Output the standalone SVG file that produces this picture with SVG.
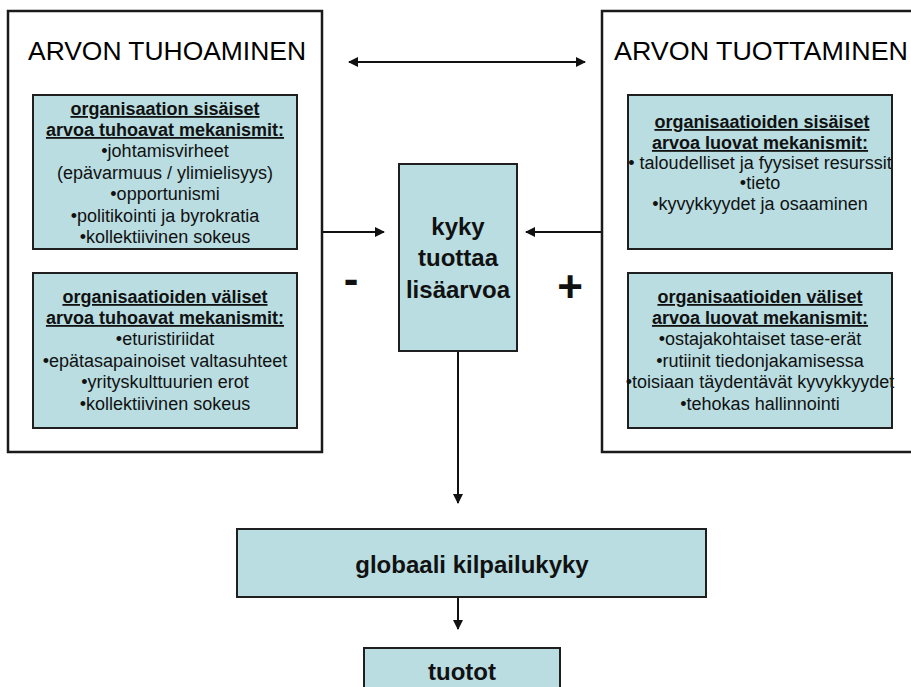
<svg xmlns="http://www.w3.org/2000/svg" width="911" height="687" viewBox="0 0 911 687">
  <style>
    .frame { fill: #ffffff; stroke: #1a1a1a; stroke-width: 2.5; }
    .box { fill: #b9dde1; stroke: #1f1f1f; stroke-width: 2; }
    .title { font-family: "Liberation Sans", Arial, sans-serif; font-size: 26px; fill: #000; text-anchor: middle; }
    .head { font-family: "Liberation Sans", Arial, sans-serif; font-size: 18px; font-weight: bold; text-decoration: underline; fill: #111; text-anchor: middle; }
    .item { font-family: "Liberation Sans", Arial, sans-serif; font-size: 18px; fill: #111; text-anchor: middle; }
    .big { font-family: "Liberation Sans", Arial, sans-serif; font-size: 24px; font-weight: bold; fill: #111; text-anchor: middle; }
    .sign { font-family: "Liberation Sans", Arial, sans-serif; font-size: 44px; font-weight: bold; fill: #111; text-anchor: middle; }
    .link { stroke: #111; stroke-width: 2; fill: none; }
  </style>
  <defs>
    <marker id="arrow" viewBox="0 0 10 10" refX="9" refY="5" markerWidth="5" markerHeight="5" orient="auto-start-reverse">
      <path d="M0,0 L10,5 L0,10 z" fill="#111"/>
    </marker>
  </defs>
  <rect width="911" height="687" fill="#ffffff"/>

  <!-- value destruction side -->
  <g id="destruction">
    <rect class="frame" x="8" y="11" width="314" height="441"/>
    <text class="title" x="167" y="60" textLength="278" lengthAdjust="spacingAndGlyphs">ARVON TUHOAMINEN</text>
  </g>
  <g id="destruction-internal">
    <rect class="box" x="33" y="95" width="264" height="154"/>
    <text class="head" x="165" y="115">organisaation sisäiset</text>
    <text class="head" x="165" y="136">arvoa tuhoavat mekanismit:</text>
    <text class="item" x="165" y="157">•johtamisvirheet</text>
    <text class="item" x="165" y="178.5">(epävarmuus / ylimielisyys)</text>
    <text class="item" x="165" y="200">•opportunismi</text>
    <text class="item" x="165" y="221.5">•politikointi ja byrokratia</text>
    <text class="item" x="165" y="243">•kollektiivinen sokeus</text>
  </g>
  <g id="destruction-external">
    <rect class="box" x="33" y="273" width="264" height="155"/>
    <text class="head" x="165" y="303">organisaatioiden väliset</text>
    <text class="head" x="165" y="324">arvoa tuhoavat mekanismit:</text>
    <text class="item" x="165" y="345">•eturistiriidat</text>
    <text class="item" x="165" y="367">•epätasapainoiset valtasuhteet</text>
    <text class="item" x="165" y="388">•yrityskulttuurien erot</text>
    <text class="item" x="165" y="410">•kollektiivinen sokeus</text>
  </g>

  <!-- value creation side -->
  <g id="creation">
    <rect class="frame" x="602" y="11" width="340" height="441"/>
    <text class="title" x="761" y="60" textLength="294" lengthAdjust="spacingAndGlyphs">ARVON TUOTTAMINEN</text>
  </g>
  <g id="creation-internal">
    <rect class="box" x="628" y="95" width="264" height="154"/>
    <text class="item" x="760" y="169">• taloudelliset ja fyysiset resurssit</text>
    <rect x="891" y="95" width="2" height="154" fill="#1f1f1f"/>
    <text class="head" x="762" y="128">organisaatioiden sisäiset</text>
    <text class="head" x="760" y="149">arvoa luovat mekanismit:</text>
    <text class="item" x="760" y="189">•tieto</text>
    <text class="item" x="760" y="210">•kyvykkyydet ja osaaminen</text>
  </g>
  <g id="creation-external">
    <rect class="box" x="628" y="273" width="264" height="155"/>
    <text class="head" x="760" y="303">organisaatioiden väliset</text>
    <text class="head" x="760" y="324">arvoa luovat mekanismit:</text>
    <text class="item" x="760" y="345">•ostajakohtaiset tase-erät</text>
    <text class="item" x="760" y="367">•rutiinit tiedonjakamisessa</text>
    <text class="item" x="760" y="388">•toisiaan täydentävät kyvykkyydet</text>
    <text class="item" x="760" y="410">•tehokas hallinnointi</text>
    <rect x="891" y="273" width="2" height="155" fill="#1f1f1f"/>
  </g>

  <!-- central capability -->
  <g id="capability">
    <rect class="box" x="399" y="164" width="118" height="187"/>
    <text class="big" x="458" y="235">kyky</text>
    <text class="big" x="458" y="266">tuottaa</text>
    <text class="big" x="458" y="298">lisäarvoa</text>
  </g>
  <g id="signs">
    <text class="sign" x="351" y="294">-</text>
    <text class="sign" x="570" y="302">+</text>
  </g>

  <g id="competitiveness">
    <rect class="box" x="237" y="529" width="469" height="68"/>
    <text class="big" x="472" y="573">globaali kilpailukyky</text>
  </g>
  <g id="returns">
    <rect class="box" x="364" y="648" width="196" height="60"/>
    <text class="big" x="462" y="680">tuotot</text>
  </g>

  <!-- connectors -->
  <g id="connectors">
    <line class="link" x1="349" y1="62" x2="585" y2="62" marker-start="url(#arrow)" marker-end="url(#arrow)"/>
    <line class="link" x1="323" y1="232" x2="384" y2="232" marker-end="url(#arrow)"/>
    <line class="link" x1="601" y1="232" x2="526" y2="232" marker-end="url(#arrow)"/>
    <line class="link" x1="458" y1="352" x2="458" y2="503" marker-end="url(#arrow)"/>
    <line class="link" x1="458" y1="598" x2="458" y2="629" marker-end="url(#arrow)"/>
  </g>
</svg>
